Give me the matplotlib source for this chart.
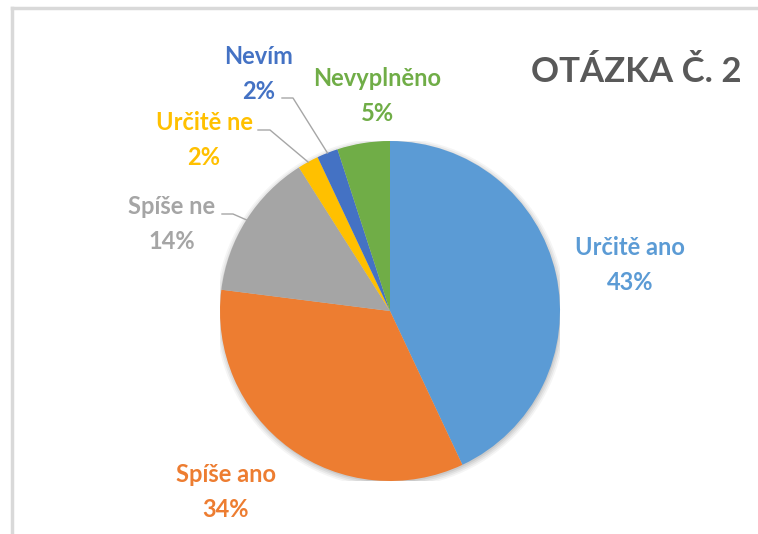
import numpy as np
import matplotlib
matplotlib.use("Agg")
import matplotlib.pyplot as plt
from matplotlib.patches import Circle

W, H = 758, 534

categories = ["Určitě ano", "Spíše ano", "Spíše ne", "Určitě ne", "Nevím", "Nevyplněno"]
shares = [43, 34, 14, 2, 2, 5]
colors = ["#5B9BD5", "#ED7D31", "#A5A5A5", "#FFC000", "#4472C4", "#70AD47"]
title = "OTÁZKA Č. 2"

# label centres in pixels (layout only)
label_pos = {
    "Určitě ano": (630, 265),
    "Spíše ano": (226, 492),
    "Spíše ne": (172, 224),
    "Určitě ne": (204, 140),
    "Nevím": (259, 74),
    "Nevyplněno": (377, 96),
}
# where the leader line starts: x0, y, x1 (pixels)
leader_start = {
    "Spíše ne": (222, 214, 233),
    "Určitě ne": (258, 130, 270),
    "Nevím": (282, 98, 293),
}

FONT = ["Lato", "DejaVu Sans"]


def px(x, y):
    return x / W, 1 - y / H


fig = plt.figure(figsize=(W / 100, H / 100), dpi=100)
fig.patch.set_facecolor("white")

# chart frame (top and left edge visible)
fig.add_artist(plt.Line2D([12 / W, 1], [1 - 8 / H] * 2, color="#D9D9D9", lw=2.5))
fig.add_artist(plt.Line2D([12 / W] * 2, [0, 1 - 8 / H], color="#D9D9D9", lw=2.5))

cx, cy, r = 390, 311, 170
ax = fig.add_axes([(cx - r) / W, (H - cy - r) / H, 2 * r / W, 2 * r / H])

# soft shadow
for i, a in enumerate([0.04, 0.05, 0.06, 0.07]):
    ax.add_patch(Circle((0.004, -0.01), 1.03 - i * 0.01, color="black", alpha=a, lw=0, zorder=0))

wedges, _ = ax.pie(shares, colors=colors, startangle=90, counterclock=False,
                   radius=1, wedgeprops={"linewidth": 0, "zorder": 1})
ax.set_xlim(-1, 1)
ax.set_ylim(-1, 1)
ax.set_aspect("equal")
ax.axis("off")

for w, cat, share, col in zip(wedges, categories, shares, colors):
    x, y = label_pos[cat]
    fx, fy = px(x, y)
    fig.text(fx, fy, f"{cat}\n{share}%", color=col, fontsize=17, fontweight="bold",
             family=FONT, ha="center", va="center", linespacing=1.6)
    if cat in leader_start:
        mid = np.deg2rad((w.theta1 + w.theta2) / 2)
        ex_px = cx + np.cos(mid) * r
        ey_px = cy - np.sin(mid) * r
        x0, y0, x1 = leader_start[cat]
        xs = [x0, x1, ex_px]
        ys = [y0, y0, ey_px]
        fig.add_artist(plt.Line2D([v / W for v in xs], [1 - v / H for v in ys],
                                  color="#A6A6A6", lw=1))

tx, ty = px(636, 72)
fig.text(tx, ty, title, color="#595959", fontsize=25, fontweight="bold",
         family=FONT, ha="center", va="center")

fig.savefig("out.png", dpi=100, facecolor="white")
